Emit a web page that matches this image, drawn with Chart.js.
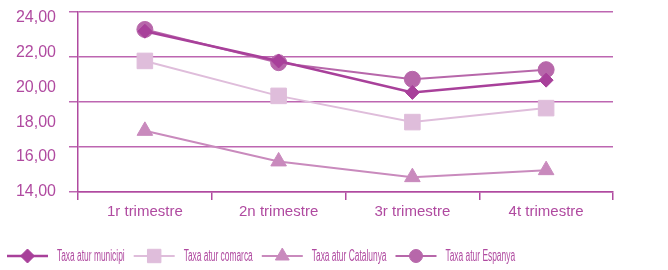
<!DOCTYPE html>
<html>
<head>
<meta charset="utf-8">
<script src="https://cdn.jsdelivr.net/npm/chart.js@4/dist/chart.umd.min.js"></script>
<style>
    html, body { margin: 0; padding: 0; background: #fff; }
    #wrap { width: 668px; height: 270px; position: relative; }
</style>
</head>
<body>
<div id="wrap"><canvas id="taxaChart"></canvas></div>
<script>
// Dades del gràfic
const quarters = ['1r trimestre', '2n trimestre', '3r trimestre', '4t trimestre'];
const seriesNames = ['Taxa atur municipi', 'Taxa atur comarca', 'Taxa atur Catalunya', 'Taxa atur Espanya'];
const municipi = [23.2, 21.5, 19.7, 20.4];
const comarca = [21.5, 19.5, 18.0, 18.8];
const catalunya = [17.5, 15.75, 14.85, 15.25];
const espanya = [23.3, 21.4, 20.45, 21.0];
const yTickLabels = [14, 16, 18, 20, 22, 24];

const axisColor = '#b04aa0';
const textColor = '#b04aa0';

const styles = [
    { color: '#a8409a', point: 'rectRot', radius: 7, legendRadius: 7, width: 2.5 },
    { color: '#dfbddb', point: 'rect', radius: 11, legendRadius: 9.5, width: 2 },
    { color: '#c98abd', point: 'triangle', radius: 9, legendRadius: 8, width: 2 },
    { color: '#b767aa', point: 'circle', radius: 8, legendRadius: 6.5, width: 2 }
];

// Llegenda pròpia: línia + marcador + text estret
const condensedLegend = {
    id: 'condensedLegend',
    afterDraw(chart) {
        const ctx = chart.ctx;
        const y = 256;
        let x = 7;
        ctx.save();
        ctx.font = '16px "Liberation Sans", Arial, sans-serif';
        ctx.textBaseline = 'middle';
        ctx.textAlign = 'left';
        chart.data.datasets.forEach((ds, i) => {
            const s = styles[i];
            ctx.strokeStyle = s.color;
            ctx.lineWidth = s.width;
            ctx.beginPath();
            ctx.moveTo(x, y);
            ctx.lineTo(x + 41, y);
            ctx.stroke();
            ctx.fillStyle = s.color;
            ctx.lineWidth = 1;
            Chart.helpers.drawPoint(ctx, { pointStyle: s.point, radius: s.legendRadius, borderWidth: 1 }, x + 20.5, y);
            x += 50;
            const w = ctx.measureText(ds.label).width * 0.525;
            ctx.fillStyle = textColor;
            ctx.fillText(ds.label, x, y + 1, w);
            x += w + 9;
        });
        ctx.restore();
    }
};

const values = [municipi, comarca, catalunya, espanya];
const datasets = values.map((data, i) => ({
    label: seriesNames[i],
    data: data,
    yAxisID: 'y',
    borderColor: styles[i].color,
    backgroundColor: styles[i].color,
    pointBackgroundColor: styles[i].color,
    pointBorderColor: styles[i].color,
    pointStyle: styles[i].point,
    pointRadius: styles[i].radius,
    pointHoverRadius: styles[i].radius,
    borderWidth: styles[i].width,
    pointBorderWidth: 1,
    tension: 0,
    fill: false
}));

new Chart(document.getElementById('taxaChart'), {
    type: 'line',
    data: { labels: quarters, datasets: datasets },
    plugins: [condensedLegend],
    options: {
        responsive: true,
        maintainAspectRatio: false,
        animation: false,
        layout: { padding: { top: 10, right: 55, left: 0, bottom: 28 } },
        scales: {
            x: {
                type: 'category',
                offset: true,
                grid: { offset: true, drawOnChartArea: false, drawTicks: true, tickLength: 8, color: axisColor, lineWidth: 1.5 },
                border: { color: axisColor, width: 1.5 },
                ticks: { color: textColor, padding: 3, font: { family: 'Liberation Sans, Arial, sans-serif', size: 15 } },
                afterFit: (axis) => { axis.height = 50; }
            },
            yg: {
                position: 'left',
                weight: 0,
                min: 14,
                max: 24,
                grid: { color: '#bd66b1', lineWidth: 1.5, drawTicks: true, tickLength: 9 },
                border: { color: axisColor, width: 1.5 },
                ticks: { display: false, stepSize: 2.5 },
                afterFit: (axis) => { axis.width = 9; axis.paddingTop = 0; axis.paddingBottom = 0; }
            },
            y: {
                position: 'left',
                weight: 1,
                min: 14,
                max: 24.3,
                grid: { display: false, drawTicks: false },
                border: { display: false },
                afterBuildTicks: (axis) => { axis.ticks = yTickLabels.map(v => ({ value: v })); },
                ticks: {
                    color: textColor,
                    padding: 13,
                    font: { family: 'Liberation Sans, Arial, sans-serif', size: 16 },
                    callback: (v) => v.toFixed(2).replace('.', ',')
                },
                afterFit: (axis) => { axis.width = 69; axis.paddingTop = 0; axis.paddingBottom = 0; }
            }
        },
        plugins: {
            tooltip: { enabled: false },
            legend: { display: false }
        }
    }
});
</script>
</body>
</html>
